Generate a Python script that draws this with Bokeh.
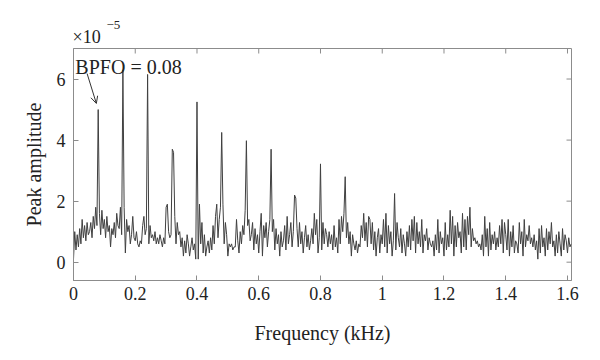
from bokeh.plotting import figure
from bokeh.models import Range1d, FixedTicker, Label, Arrow, OpenHead, ColumnDataSource, Title
from bokeh.embed import file_html
from bokeh.resources import INLINE

# Spectrum samples (amplitude in units of 1e-5), one sample every 0.004 kHz
freq_step_khz = 0.004
amplitude = [
    0.1, 1.0, 0.4, 0.9, 0.5, 1.1, 0.6, 1.4, 0.8, 1.2, 0.7, 1.3, 0.9, 1.0, 1.3, 0.8, 1.5, 1.1, 1.8, 1.2,
    5.0, 1.6, 0.9, 1.7, 1.1, 1.4, 0.8, 1.5, 1.0, 1.2, 0.5, 1.1, 0.9, 1.3, 0.8, 1.6, 1.2, 1.1, 1.8, 0.9,
    6.3, 1.8, 0.3, 1.4, 1.0, 1.2, 0.6, 0.9, 1.5, 0.8, 0.7, 1.0, 0.6, 0.5, 0.7, 0.6, 1.2, 1.5, 0.9, 1.1,
    6.15, 0.6, 1.2, 0.8, 0.9, 0.7, 1.0, 0.6, 0.8, 0.6, 0.9, 0.7, 0.5, 0.8, 0.6, 1.8, 1.9, 1.0, 0.8, 0.9,
    3.7, 3.6, 1.5, 0.6, 1.3, 0.9, 1.0, 0.5, 0.8, 0.2, 0.7, 0.3, 0.9, 0.6, 0.2, 0.5, 0.8, 0.4, 0.6, 0.1,
    5.25, 0.1, 1.9, 0.6, 1.3, 0.3, 0.9, 0.2, 0.5, 0.7, 0.3, 0.8, 0.4, 1.2, 0.6, 1.5, 1.9, 0.8, 1.4, 1.8,
    4.25, 1.9, 0.6, 1.3, 0.9, 0.2, 0.6, 0.5, 0.6, 0.4, 0.5, 0.5, 1.4, 0.7, 0.3, 1.0, 0.6, 1.2, 0.9, 1.7,
    3.98, 1.2, 1.4, 0.7, 0.9, 1.3, 0.4, 1.1, 0.6, 0.9, 0.3, 1.0, 1.6, 0.2, 1.2, 0.8, 1.3, 0.5, 1.0, 1.4,
    3.7, 1.0, 1.4, 0.4, 1.1, 0.6, 0.9, 0.2, 1.0, 0.5, 0.7, 1.2, 0.4, 1.5, 0.6, 0.9, 1.3, 0.5, 1.0, 2.2,
    2.1, 1.1, 0.5, 1.3, 0.6, 1.0, 0.3, 0.8, 1.2, 0.5, 0.9, 0.4, 0.7, 1.1, 0.6, 1.6, 0.9, 1.4, 0.3, 0.8,
    3.22, 0.4, 1.3, 0.6, 1.1, 0.9, 0.5, 1.0, 0.6, 0.9, 0.4, 1.2, 0.5, 0.8, 0.3, 1.4, 0.6, 1.5, 1.0, 1.6,
    2.8, 0.8, 1.3, 0.6, 1.0, 0.2, 0.9, 0.6, 0.4, 0.7, 0.3, 0.6, 0.5, 1.2, 0.8, 1.6, 0.7, 1.3, 0.5, 1.5,
    1.4, 0.6, 1.3, 0.4, 1.0, 0.2, 0.8, 1.1, 0.3, 0.9, 0.6, 1.4, 0.5, 1.6, 0.3, 1.2, 0.6, 1.0, 0.2, 0.7,
    2.25, 0.4, 1.3, 0.8, 0.5, 1.1, 0.3, 0.9, 0.6, 0.2, 1.0, 0.5, 1.2, 0.4, 1.4, 0.7, 1.5, 0.3, 1.3, 0.6,
    1.0, 0.5, 1.4, 0.3, 0.9, 0.7, 1.1, 0.4, 0.8, 0.6, 0.5, 0.7, 0.2, 0.9, 0.4, 1.4, 0.3, 1.0, 0.6, 0.8,
    0.2, 1.3, 0.4, 0.9, 0.5, 1.7, 0.6, 1.5, 0.2, 1.2, 0.5, 1.3, 0.8, 1.0, 0.3, 1.6, 0.5, 1.4, 0.4, 1.5,
    0.9, 1.8, 0.5, 1.1, 0.7, 0.8, 0.6, 0.7, 0.5, 0.6, 0.4, 0.9, 0.2, 1.5, 0.5, 1.1, 0.2, 1.3, 0.4, 0.9,
    0.6, 1.0, 0.4, 0.8, 0.5, 1.2, 0.6, 1.4, 0.3, 1.3, 0.9, 0.4, 1.4, 0.2, 1.0, 0.5, 1.2, 0.3, 0.7, 0.6,
    0.3, 1.3, 0.6, 1.0, 0.2, 1.4, 0.5, 0.9, 0.7, 1.2, 0.6, 0.8, 0.5, 0.9, 0.4, 0.7, 0.1, 1.1, 0.3, 1.2,
    0.5, 0.8, 0.2, 1.1, 0.4, 1.0, 0.6, 1.3, 0.5, 0.7, 0.2, 0.9, 0.3, 1.0, 0.6, 0.2, 1.1, 0.4, 0.9, 0.7,
    0.3, 0.8, 0.5, 0.6,
]
freq = [i * freq_step_khz for i in range(len(amplitude))]

x_ticks = [0, 0.2, 0.4, 0.6, 0.8, 1.0, 1.2, 1.4, 1.6]
x_tick_labels = ["0", "0.2", "0.4", "0.6", "0.8", "1", "1.2", "1.4", "1.6"]
y_ticks = [0, 2, 4, 6]
y_tick_labels = ["0", "2", "4", "6"]
exponent_base = "×10"
exponent_power = "−5"

annotation_text = "BPFO = 0.08"
bpfo = 0.08
bpfo_amp = 5.0

FONT = "Liberation Serif"
GRAY = "#8c8c8c"
TXT = "#222222"

X0, X1 = 0, 1.613
Y0, Y1 = -0.6, 7
FW, FH = 498, 232

p = figure(frame_width=FW, frame_height=FH,
           x_range=Range1d(X0, X1), y_range=Range1d(Y0, Y1),
           output_backend="svg", toolbar_location=None,
           min_border_left=73, min_border_top=48, min_border_right=14, min_border_bottom=60,
           x_axis_label="Frequency (kHz)", y_axis_label="Peak amplitude")

# exponent marker "×10^-5" as two stacked titles (base, then raised power)
t_base = Title(text=exponent_base, text_font=FONT, text_font_size="18px", text_font_style="normal",
               text_color=TXT, align="left", offset=-1, standoff=4)
t_pow = Title(text=exponent_power, text_font=FONT, text_font_size="13px", text_font_style="normal",
              text_color=TXT, align="left", offset=33, standoff=-12)
p.add_layout(t_base, "above")
p.add_layout(t_pow, "above")

p.grid.visible = False
p.outline_line_color = GRAY
p.background_fill_color = "white"
p.border_fill_color = "white"

src = ColumnDataSource(dict(f=freq, a=amplitude))
p.line("f", "a", source=src, line_color="#404040", line_width=1)

def style_axis(ax, ticks, labels):
    ax.ticker = FixedTicker(ticks=ticks)
    ax.major_label_overrides = {t: l for t, l in zip(ticks, labels)}
    ax.axis_line_color = GRAY
    ax.major_tick_line_color = GRAY
    ax.major_tick_in = 5
    ax.major_tick_out = 0
    ax.minor_tick_line_color = None
    ax.major_label_text_font = FONT
    ax.major_label_text_font_size = "18px"
    ax.major_label_text_color = TXT
    ax.axis_label_text_font = FONT
    ax.axis_label_text_font_style = "normal"
    ax.axis_label_text_font_size = "20px"
    ax.axis_label_text_color = TXT

style_axis(p.xaxis[0], x_ticks, x_tick_labels)
p.xaxis[0].major_label_standoff = 6
p.xaxis[0].axis_label_standoff = 19
style_axis(p.yaxis[0], y_ticks, y_tick_labels)
p.yaxis[0].major_label_standoff = 8
p.yaxis[0].axis_label_standoff = 9

# box ticks on the top and right edges (inward, 5 px)
tick_dy = 5 * (Y1 - Y0) / FH
tick_dx = 5 * (X1 - X0) / FW
p.segment(x0=x_ticks, y0=[Y1] * len(x_ticks), x1=x_ticks, y1=[Y1 - tick_dy] * len(x_ticks),
          line_color=GRAY, line_width=1)
p.segment(x0=[X1] * len(y_ticks), y0=y_ticks, x1=[X1 - tick_dx] * len(y_ticks), y1=y_ticks,
          line_color=GRAY, line_width=1)

# BPFO annotation
p.add_layout(Label(x=0.006, y=6.38, text=annotation_text, text_font=FONT, text_font_size="20px",
                   text_color=TXT, text_baseline="alphabetic"))
p.add_layout(Arrow(x_start=0.044, y_start=6.18, x_end=bpfo - 0.006, y_end=bpfo_amp + 0.2,
                   line_color="#333333", line_width=1,
                   end=OpenHead(size=7, line_color="#333333", line_width=1)))

open("out.html", "w").write(file_html(p, INLINE))
